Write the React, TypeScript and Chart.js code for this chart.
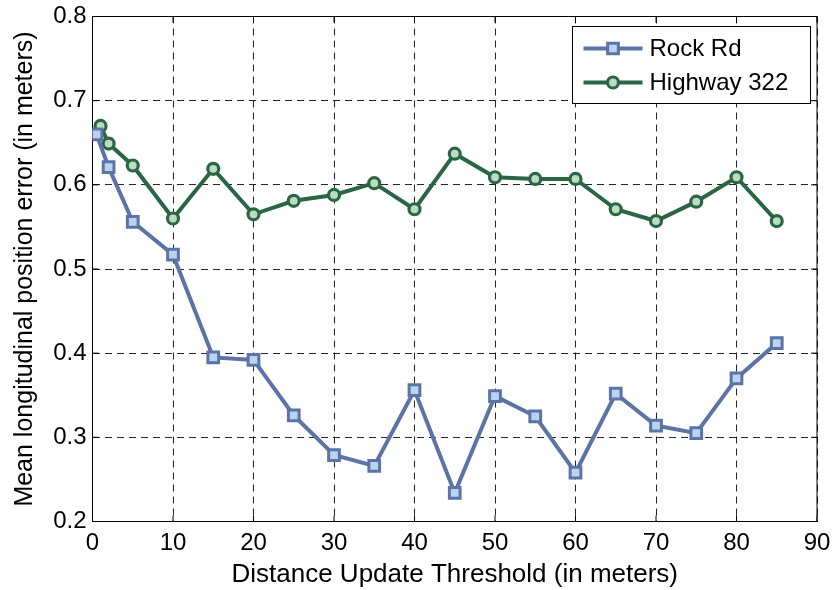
import React, { useEffect, useRef } from "react";
import { Chart, registerables } from "chart.js";

Chart.register(...registerables);

// ---- data ----
const rockRdX = [0.5, 2, 5, 10, 15, 20, 25, 30, 35, 40, 45, 50, 55, 60, 65, 70, 75, 80, 85];
const rockRdY = [0.660, 0.621, 0.556, 0.517, 0.395, 0.392, 0.326, 0.279, 0.266, 0.356, 0.234, 0.349, 0.325, 0.258, 0.352, 0.314, 0.305, 0.370, 0.412];
const highwayX = [1, 2, 5, 10, 15, 20, 25, 30, 35, 40, 45, 50, 55, 60, 65, 70, 75, 80, 85];
const highwayY = [0.670, 0.649, 0.623, 0.560, 0.619, 0.565, 0.581, 0.588, 0.602, 0.571, 0.637, 0.609, 0.607, 0.607, 0.571, 0.557, 0.580, 0.609, 0.557];
const seriesNames = ["Rock Rd", "Highway 322"];
const xTickValues = [0, 10, 20, 30, 40, 50, 60, 70, 80, 90];
const yTickValues = [0.2, 0.3, 0.4, 0.5, 0.6, 0.7, 0.8];
const xTitle = "Distance Update Threshold (in meters)";
const yTitle = "Mean longitudinal position error (in meters)";

const FONT = "'Liberation Sans', Arial, Helvetica, sans-serif";

const framePlugin = {
  id: "frame",
  beforeDatasetsDraw(chart: any) {
    const { ctx, chartArea: a, scales } = chart;
    ctx.save();
    ctx.strokeStyle = "#000";
    ctx.lineWidth = 1;
    ctx.setLineDash([]);
    ctx.strokeRect(a.left, a.top, a.right - a.left, a.bottom - a.top);
    const t = 6;
    ctx.beginPath();
    xTickValues.forEach((v) => {
      const px = scales.x.getPixelForValue(v);
      ctx.moveTo(px, a.bottom);
      ctx.lineTo(px, a.bottom - t);
      ctx.moveTo(px, a.top);
      ctx.lineTo(px, a.top + t);
    });
    yTickValues.forEach((v) => {
      const py = scales.y.getPixelForValue(v);
      ctx.moveTo(a.left, py);
      ctx.lineTo(a.left + t, py);
      ctx.moveTo(a.right, py);
      ctx.lineTo(a.right - t, py);
    });
    ctx.stroke();
    ctx.restore();
  },
  afterDatasetsDraw(chart: any) {
    const { ctx, chartArea: a } = chart;
    const boxRight = a.right - 6.5;
    const boxLeft = boxRight - 238;
    const boxTop = a.top + 10;
    const boxH = 77;
    ctx.save();
    ctx.fillStyle = "#fff";
    ctx.fillRect(boxLeft, boxTop, boxRight - boxLeft, boxH);
    ctx.strokeStyle = "#000";
    ctx.lineWidth = 1;
    ctx.setLineDash([]);
    ctx.strokeRect(boxLeft, boxTop, boxRight - boxLeft, boxH);
    const rows = [boxTop + 22, boxTop + 56];
    chart.data.datasets.forEach((ds: any, i: number) => {
      const y = rows[i];
      const x1 = boxLeft + 11;
      const x2 = boxLeft + 70;
      ctx.strokeStyle = ds.borderColor;
      ctx.lineWidth = ds.borderWidth;
      ctx.beginPath();
      ctx.moveTo(x1, y);
      ctx.lineTo(x2, y);
      ctx.stroke();
      ctx.fillStyle = ds.pointBackgroundColor;
      ctx.strokeStyle = ds.pointBorderColor;
      ctx.lineWidth = ds.pointBorderWidth;
      const cx = (x1 + x2) / 2;
      ctx.beginPath();
      if (ds.pointStyle === "rect") {
        const s = Math.SQRT1_2 * ds.pointRadius;
        ctx.rect(cx - s, y - s, 2 * s, 2 * s);
      } else {
        ctx.arc(cx, y, ds.pointRadius, 0, Math.PI * 2);
      }
      ctx.fill();
      ctx.stroke();
      ctx.fillStyle = "#000";
      ctx.font = `24px ${FONT}`;
      ctx.textBaseline = "middle";
      ctx.textAlign = "left";
      ctx.fillText(ds.label, boxLeft + 77, y + 1);
    });
    ctx.restore();
  },
};

export default function App() {
  const ref = useRef<HTMLCanvasElement | null>(null);

  useEffect(() => {
    document.body.style.margin = "0";
    const canvas = ref.current;
    if (!canvas) return;
    const chart = new Chart(canvas, {
      type: "line",
      data: {
        datasets: [
          {
            label: seriesNames[0],
            data: rockRdX.map((x, i) => ({ x, y: rockRdY[i] })),
            borderColor: "#5b74a5",
            backgroundColor: "#b9d3f0",
            borderWidth: 4,
            pointStyle: "rect",
            pointRadius: 7.6,
            pointBackgroundColor: "#b9d3f0",
            pointBorderColor: "#5b74a5",
            pointBorderWidth: 3,
            tension: 0,
          },
          {
            label: seriesNames[1],
            data: highwayX.map((x, i) => ({ x, y: highwayY[i] })),
            borderColor: "#2a6643",
            backgroundColor: "#bcdcc1",
            borderWidth: 4,
            pointStyle: "circle",
            pointRadius: 5.5,
            pointBackgroundColor: "#bcdcc1",
            pointBorderColor: "#2a6643",
            pointBorderWidth: 3.2,
            tension: 0,
          },
        ],
      },
      options: {
        responsive: false,
        animation: false,
        layout: { padding: { top: 16.5, right: 16, left: 0, bottom: 0 } },
        plugins: {
          legend: { display: false },
          tooltip: { enabled: false },
        },
        scales: {
          x: {
            type: "linear",
            min: 0,
            max: 90,
            afterBuildTicks: (s: any) => {
              s.ticks = xTickValues.map((v) => ({ value: v }));
            },
            afterFit: (s: any) => {
              s.height = 68.5;
              s.paddingLeft = 0;
              s.paddingRight = 0;
              s.paddingTop = 0;
              s.paddingBottom = 0;
            },
            ticks: {
              color: "#000",
              font: { family: FONT, size: 24 },
              padding: 7,
              maxRotation: 0,
              autoSkip: false,
              callback: (v: any) => String(v),
            },
            grid: {
              color: "rgba(0,0,0,0.85)",
              lineWidth: 1,
              drawTicks: false,
            },
            border: { display: false, dash: [7, 5] },
            title: {
              display: true,
              text: xTitle,
              color: "#000",
              font: { family: FONT, size: 26 },
              padding: { top: 0, bottom: 0 },
            },
          },
          y: {
            type: "linear",
            min: 0.2,
            max: 0.8,
            afterBuildTicks: (s: any) => {
              s.ticks = yTickValues.map((v) => ({ value: v }));
            },
            afterFit: (s: any) => {
              s.width = 92.5;
              s.paddingLeft = 0;
              s.paddingRight = 0;
              s.paddingTop = 0;
              s.paddingBottom = 0;
            },
            ticks: {
              color: "#000",
              font: { family: FONT, size: 24 },
              padding: 6,
              autoSkip: false,
              callback: (v: any) => Number(v).toFixed(1),
            },
            grid: {
              color: "rgba(0,0,0,0.85)",
              lineWidth: 1,
              drawTicks: false,
            },
            border: { display: false, dash: [7, 5] },
            title: {
              display: true,
              text: yTitle,
              color: "#000",
              font: { family: FONT, size: 25 },
              padding: { top: 10, bottom: 0 },
            },
          },
        },
      },
      plugins: [framePlugin],
    });
    return () => chart.destroy();
  }, []);

  return (
    <div style={{ width: 833, height: 590 }}>
      <canvas ref={ref} width={833} height={590} />
    </div>
  );
}
